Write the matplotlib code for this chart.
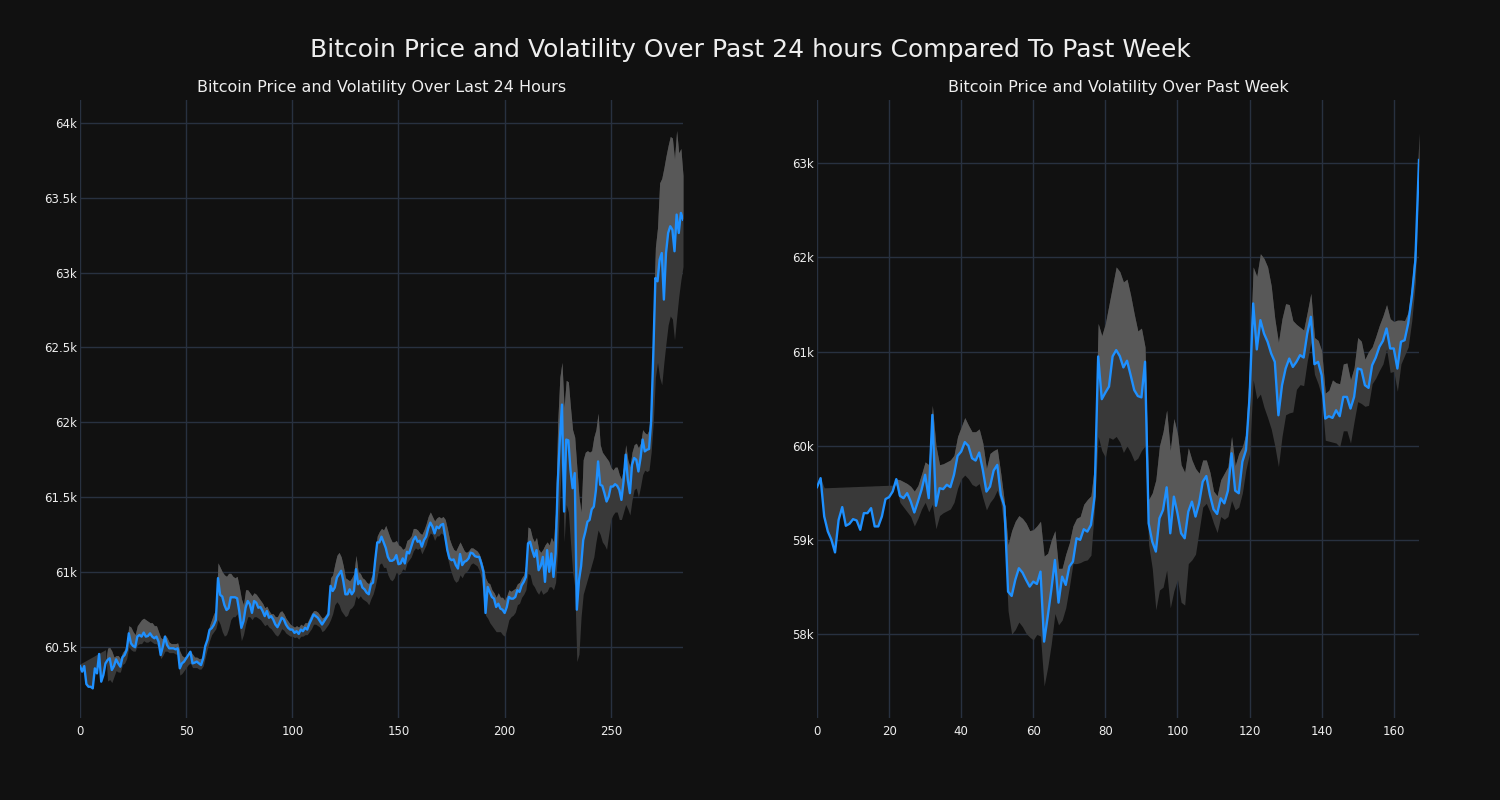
import matplotlib
matplotlib.use("Agg")
import matplotlib.pyplot as plt
from matplotlib.ticker import FuncFormatter, MultipleLocator
import numpy as np

# ---------------- data: last 24 hours ----------------
day_price = [
    60370, 60333, 60370, 60250, 60232, 60232, 60221, 60355, 60321, 60451,
    60266, 60310, 60388, 60411, 60422, 60344, 60370, 60415, 60388, 60366,
    60429, 60444, 60478, 60589, 60522, 60504, 60496, 60567, 60578, 60567,
    60594, 60567, 60571, 60589, 60567, 60556, 60567, 60533, 60444, 60500,
    60567, 60511, 60489, 60489, 60489, 60482, 60489, 60355, 60388, 60400,
    60422, 60444, 60466, 60388, 60393, 60400, 60388, 60377, 60422, 60504,
    60545, 60612, 60623, 60645, 60679, 60958, 60846, 60835, 60779, 60745,
    60757, 60830, 60830, 60830, 60823, 60738, 60626, 60670, 60760, 60805,
    60783, 60726, 60805, 60794, 60760, 60765, 60738, 60704, 60738, 60693,
    60704, 60682, 60648, 60630, 60659, 60693, 60682, 60648, 60626, 60614,
    60614, 60592, 60603, 60585, 60614, 60603, 60626, 60614, 60652, 60682,
    60715, 60704, 60693, 60670, 60648, 60670, 60693, 60715, 60906, 60872,
    60895, 60962, 60984, 61007, 60940, 60850, 60850, 60883, 60850, 60872,
    61018, 60917, 60940, 60895, 60883, 60861, 60850, 60917, 60928, 61074,
    61197, 61197, 61235, 61197, 61160, 61100, 61074, 61074, 61083, 61112,
    61051, 61056, 61090, 61056, 61134, 61123, 61168, 61212, 61235, 61201,
    61208, 61168, 61212, 61235, 61291, 61329, 61302, 61257, 61302, 61291,
    61313, 61320, 61235, 61145, 61090, 61078, 61083, 61045, 61022, 61119,
    61045, 61067, 61074, 61090, 61128, 61123, 61105, 61100, 61100, 61056,
    61000, 60725, 60899, 60866, 60832, 60821, 60765, 60787, 60754, 60747,
    60725, 60765, 60832, 60821, 60821, 60832, 60877, 60866, 60910, 60933,
    60966, 61190, 61201, 61145, 61100, 61145, 61011, 61040, 61100, 60933,
    61145, 61000, 61123, 60966, 61123, 61593, 61884, 62118, 61403, 61884,
    61879, 61682, 61559, 61660, 60747, 60944, 61038, 61212, 61268, 61335,
    61347, 61418, 61436, 61548, 61738, 61582, 61575, 61526, 61470, 61503,
    61570, 61570, 61586, 61575, 61548, 61481, 61604, 61783, 61615, 61526,
    61716, 61761, 61749, 61671, 61761, 61884, 61805, 61816, 61821, 62007,
    62450, 62964, 62942, 63087, 63131, 62820, 63131, 63265, 63310, 63287,
    63143, 63388, 63265, 63399, 63354,
]
day_hi = [
    60370, 60333, 60370, 60250, 60232, 60232, 60221, 60355, 60321, 60451,
    60266, 60310, 60388, 60490, 60495, 60470, 60430, 60440, 60440, 60420,
    60460, 60480, 60520, 60640, 60630, 60600, 60580, 60640, 60660, 60680,
    60690, 60680, 60670, 60660, 60660, 60640, 60640, 60600, 60560, 60550,
    60580, 60560, 60530, 60520, 60520, 60520, 60525, 60470, 60440, 60430,
    60440, 60460, 60470, 60450, 60430, 60430, 60420, 60420, 60450, 60520,
    60570, 60640, 60680, 60720, 60750, 61060, 61030, 61000, 60980, 60970,
    60990, 60990, 60970, 60960, 60970, 60900, 60820, 60780, 60880, 60880,
    60860, 60840, 60860, 60850, 60830, 60810, 60790, 60760, 60770, 60740,
    60720, 60720, 60700, 60700, 60730, 60740, 60720, 60690, 60670, 60650,
    60640, 60630, 60640, 60630, 60650, 60640, 60660, 60660, 60690, 60720,
    60740, 60740, 60730, 60710, 60690, 60700, 60720, 60740, 60960, 60980,
    61050, 61110, 61130, 61100, 61040, 60960, 60950, 60940, 60960, 60990,
    61110, 61000, 60990, 60960, 60950, 60930, 60920, 60960, 60990, 61130,
    61240, 61270, 61290, 61280, 61310, 61270, 61230, 61200, 61200, 61210,
    61180, 61170, 61150, 61160, 61210, 61220, 61240, 61290, 61290, 61280,
    61260, 61250, 61280, 61320, 61370, 61400, 61370, 61340, 61360, 61370,
    61360, 61370, 61350, 61290, 61220, 61180, 61150, 61140, 61170, 61200,
    61170, 61140, 61130, 61140, 61160, 61160, 61150, 61140, 61120, 61080,
    61030, 60960, 60930, 60920, 60880, 60860, 60830, 60860, 60830, 60830,
    60810, 60840, 60880, 60870, 60880, 60890, 60920, 60930, 60960, 60980,
    61050, 61300, 61290, 61230, 61200, 61230, 61150, 61130, 61150, 61180,
    61200, 61180, 61230, 61200, 61400, 62000, 62300, 62400, 62100, 62280,
    62270, 62100, 61950, 61900, 61700, 61500, 61400, 61750, 61800, 61810,
    61800, 61810, 61900, 61950, 62060, 61850, 61800, 61780, 61760, 61740,
    61700, 61680, 61700, 61700, 61650, 61620, 61700, 61850, 61750, 61700,
    61800, 61850, 61860, 61830, 61860, 61950, 61930, 61920, 61950, 62150,
    62700, 63170, 63300, 63600, 63630, 63700, 63780, 63850, 63910, 63900,
    63760, 63950, 63800, 63830, 63650,
]
day_lo = [
    60384, 60392, 60400, 60408, 60416, 60424, 60432, 60440, 60448, 60456,
    60464, 60472, 60480, 60270, 60280, 60260, 60300, 60340, 60330, 60330,
    60380, 60390, 60420, 60500, 60480, 60470, 60470, 60510, 60520, 60520,
    60540, 60530, 60530, 60540, 60530, 60520, 60520, 60490, 60420, 60440,
    60470, 60470, 60460, 60460, 60460, 60450, 60450, 60310, 60320, 60340,
    60360, 60380, 60390, 60360, 60360, 60360, 60350, 60350, 60370, 60430,
    60490, 60540, 60580, 60600, 60620, 60680, 60650, 60600, 60570, 60580,
    60620, 60680, 60700, 60700, 60720, 60640, 60540, 60580, 60650, 60700,
    60700, 60680, 60700, 60700, 60690, 60680, 60660, 60640, 60650, 60630,
    60620, 60600, 60580, 60570, 60590, 60620, 60610, 60590, 60580, 60570,
    60570, 60560, 60565, 60550, 60570, 60570, 60580, 60580, 60600, 60620,
    60650, 60650, 60640, 60630, 60600, 60610, 60630, 60650, 60680, 60720,
    60780, 60800, 60780, 60740, 60720, 60700, 60710, 60750, 60760, 60780,
    60840, 60820, 60840, 60820, 60810, 60800, 60780, 60820, 60850, 60900,
    60970, 61050, 61060, 61030, 61030, 60980, 60950, 60940, 60960, 61000,
    60980, 60990, 61020, 61010, 61060, 61080, 61100, 61140, 61160, 61150,
    61160, 61120, 61150, 61180, 61230, 61260, 61250, 61210, 61240, 61240,
    61260, 61250, 61190, 61100, 61040, 60990, 60950, 60930, 60940, 60980,
    60960, 60990, 61000, 61020, 61050, 61060, 61050, 61040, 61010, 60960,
    60830, 60710, 60690, 60660, 60640, 60620, 60600, 60600, 60600, 60580,
    60570, 60620, 60680, 60700, 60710, 60730, 60780, 60790, 60830, 60850,
    60880, 60990, 60980, 60920, 60900, 60870, 60850, 60880, 60850, 60860,
    60870, 60900, 60900, 60880, 60930, 61150, 61500, 61800, 61200, 61450,
    61400, 61200, 61000, 60900, 60400, 60450, 60700, 60850, 60900, 60950,
    61000, 61050, 61100, 61200, 61280, 61250, 61200, 61180, 61150, 61250,
    61350, 61380, 61400, 61400, 61350, 61350, 61400, 61450, 61420, 61380,
    61480, 61550, 61560, 61500, 61570, 61650, 61680, 61670, 61680, 61800,
    62000, 62300, 62400, 62300, 62250, 62400, 62530, 62650, 62710, 62690,
    62550, 62700, 62840, 62950, 63040,
]

# ---------------- data: past week ----------------
week_price = [
    59562, 59657, 59251, 59092, 59003, 58869, 59215, 59350, 59152, 59173,
    59222, 59208, 59109, 59286, 59286, 59339, 59145, 59145, 59251, 59435,
    59456, 59516, 59647, 59470, 59445, 59498, 59410, 59293, 59410, 59534,
    59693, 59445, 60329, 59364, 59551, 59541, 59587, 59562, 59693, 59894,
    59940, 60040, 60000, 59869, 59844, 59929, 59745, 59515, 59568, 59738,
    59798, 59480, 59356, 58453, 58407, 58577, 58701, 58655, 58577, 58506,
    58559, 58534, 58665, 57922, 58188, 58471, 58789, 58336, 58612, 58524,
    58719, 58772, 59019, 59002, 59115, 59090, 59161, 59462, 60949, 60496,
    60566, 60630, 60950, 61017, 60953, 60833, 60904, 60752, 60593, 60529,
    60515, 60893, 59178, 58984, 58878, 59231, 59320, 59560, 59072, 59461,
    59284, 59072, 59019, 59302, 59408, 59249, 59390, 59620, 59680, 59479,
    59327, 59277, 59443, 59390, 59525, 59921, 59525, 59497, 59832, 59956,
    60522, 61512, 61024, 61335, 61193, 61105, 60980, 60892, 60325, 60644,
    60821, 60927, 60838, 60892, 60963, 60938, 61193, 61370, 60867, 60892,
    60750, 60290, 60315, 60297, 60378, 60315, 60520, 60520, 60396, 60520,
    60821, 60810, 60644, 60616, 60856, 60938, 61051, 61115, 61246, 61034,
    61034, 60821, 61105, 61122, 61299, 61583, 61973, 63035,
]
week_hi = [
    59562, 59657, 59251, 59092, 59003, 58869, 59215, 59350, 59152, 59173,
    59222, 59208, 59109, 59286, 59286, 59339, 59145, 59145, 59251, 59435,
    59456, 59516, 59647, 59640, 59620, 59600, 59570, 59520, 59580, 59700,
    59830, 59800, 60430, 60000, 59800, 59810, 59830, 59850, 59900, 60100,
    60200, 60300, 60220, 60150, 60150, 60180, 60030, 59760, 59920, 59950,
    59970, 59700, 59400, 58950, 59100, 59200, 59260, 59230, 59180, 59100,
    59110, 59150, 59200, 58830, 58860, 59000, 59100, 58700, 58700, 58850,
    58970, 59150, 59230, 59250, 59380, 59430, 59470, 59800, 61300, 61170,
    61300, 61500, 61700, 61900, 61850, 61740, 61770, 61600, 61400, 61220,
    61250, 61050, 59430, 59500, 59640, 60000, 60150, 60380, 59950, 60290,
    60130, 59800, 59720, 59980, 59850, 59760, 59710, 59850, 59850, 59720,
    59520, 59470, 59640, 59710, 59780, 60100, 59790, 59920, 59990, 60130,
    60840, 61900, 61800, 62040, 61990, 61900, 61700, 61350, 61100, 61350,
    61510, 61500, 61330, 61290, 61260, 61230, 61420, 61620, 61150, 61120,
    61010, 60560, 60590, 60700, 60670, 60660, 60870, 60880, 60700, 60830,
    61150, 61110, 60920, 61000, 61050, 61160, 61280, 61380, 61500, 61350,
    61320, 61335, 61335, 61330, 61420, 61720, 62200, 63320,
]
week_lo = [
    59562, 59657, 59555, 59556, 59558, 59559, 59561, 59562, 59564, 59565,
    59567, 59568, 59570, 59571, 59573, 59574, 59576, 59577, 59579, 59580,
    59582, 59583, 59583, 59400, 59350, 59300, 59250, 59150, 59230, 59330,
    59400, 59300, 59380, 59120, 59260, 59290, 59310, 59330, 59400, 59550,
    59650, 59690, 59650, 59590, 59570, 59600, 59450, 59320, 59400, 59450,
    59530, 59400, 59100, 58250, 58000, 58050, 58130, 58080, 58010, 57970,
    57940, 58000, 57980, 57450, 57650, 57900, 58220, 58100, 58150, 58280,
    58500, 58750, 58750, 58760, 58780, 58790, 58840, 59350, 60100, 59950,
    59880, 60090, 60070, 60100, 60040, 59930, 60000, 59930, 59840, 59870,
    59950, 60000, 58950, 58700, 58260, 58470, 58500, 58680, 58280, 58460,
    58580, 58340, 58310, 58750, 58790, 58850, 59100, 59350, 59390, 59300,
    59180, 59080, 59250, 59220, 59250, 59420, 59320, 59350, 59500, 59750,
    59920, 60700, 60500, 60550, 60410, 60300, 60180, 60000, 59780, 60100,
    60330, 60350, 60360, 60600, 60650, 60640, 60900, 61100, 60760, 60660,
    60530, 60060, 60050, 60040, 60030, 59990, 60160, 60160, 60030, 60260,
    60470, 60450, 60420, 60430, 60660, 60720, 60800, 60870, 61030, 60780,
    60790, 60580, 60870, 60960, 61050, 61330, 61740, 63000,
]

suptitle = "Bitcoin Price and Volatility Over Past 24 hours Compared To Past Week"
left_title = "Bitcoin Price and Volatility Over Last 24 Hours"
right_title = "Bitcoin Price and Volatility Over Past Week"

# ---------------- style ----------------
BG = "#111111"
GRID = "#283140"
TXT = "#eeeeee"
LINE = "#1e90ff"
DARK = "#393939"
LIGHT = "#585858"

fig = plt.figure(figsize=(15, 8), dpi=100, facecolor=BG)
fig.suptitle(suptitle, color=TXT, fontsize=18, y=0.9375, va="center")

kfmt = FuncFormatter(lambda v, p: f"{v/1000:g}k")


def draw(ax, price, hi, lo, title, ylim, ystep, xstep):
    x = np.arange(len(price))
    price = np.asarray(price, float)
    hi = np.asarray(hi, float)
    lo = np.asarray(lo, float)
    ax.set_facecolor(BG)
    ax.fill_between(x, lo, hi, color=DARK, linewidth=0, zorder=2)
    ax.fill_between(x, price, hi, where=hi > price, interpolate=True,
                    color=LIGHT, linewidth=0, zorder=3)
    ax.plot(x, price, color=LINE, linewidth=1.7, zorder=4)
    ax.set_xlim(0, len(price) - 1)
    ax.set_ylim(*ylim)
    ax.xaxis.set_major_locator(MultipleLocator(xstep))
    ax.yaxis.set_major_locator(MultipleLocator(ystep))
    ax.yaxis.set_major_formatter(kfmt)
    ax.grid(True, color=GRID, linewidth=1.0, zorder=0)
    ax.set_axisbelow(True)
    for s in ax.spines.values():
        s.set_visible(False)
    ax.tick_params(length=0, colors=TXT, labelsize=8.5, pad=5)
    ax.tick_params(axis="y", pad=2)
    ax.set_title(title, color=TXT, fontsize=11.5, pad=6)


ax1 = fig.add_axes([80 / 1500, 82 / 800, 603 / 1500, 618 / 800])
ax2 = fig.add_axes([817 / 1500, 82 / 800, 602 / 1500, 618 / 800])
draw(ax1, day_price, day_hi, day_lo, left_title, (60023, 64154), 500, 50)
draw(ax2, week_price, week_hi, week_lo, right_title, (57111, 63672), 1000, 20)

fig.savefig("out.png", dpi=100, facecolor=BG)
